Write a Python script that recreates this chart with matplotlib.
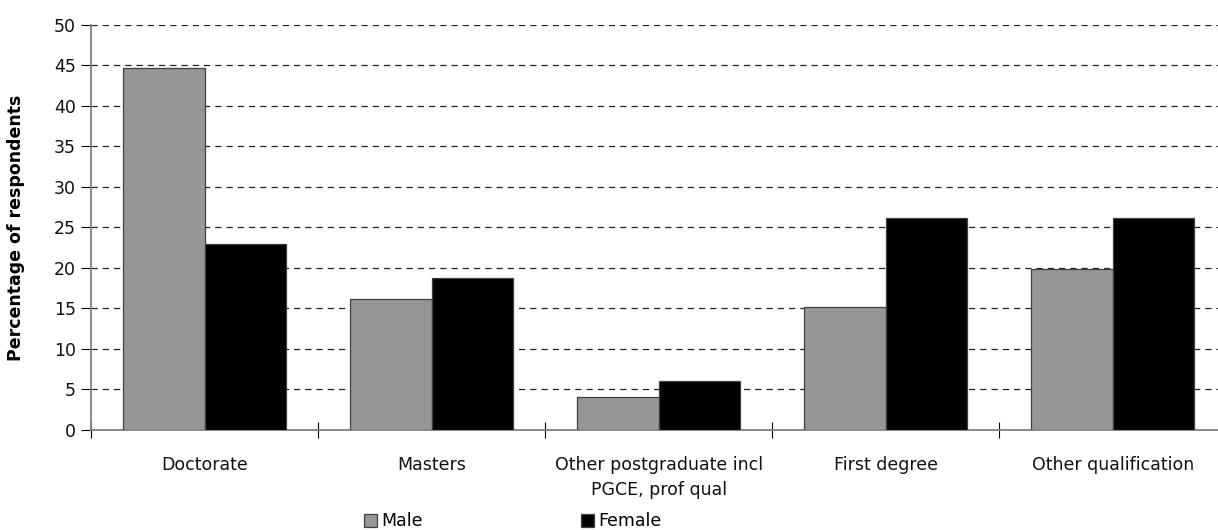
import matplotlib
matplotlib.use("Agg")
import matplotlib.pyplot as plt
import numpy as np

plt.rcParams['font.family'] = ['DejaVu Sans']
plt.rcParams['font.size'] = 12.5

categories = ['Doctorate', 'Masters', 'Other postgraduate incl\nPGCE, prof qual',
              'First degree', 'Other qualification']
male = [44.7, 16.2, 4.0, 15.2, 19.8]
female = [22.9, 18.7, 6.0, 26.1, 26.1]
series_names = ['Male', 'Female']

fig = plt.figure(figsize=(12.18, 5.30), dpi=100)
# the plot area runs past the right edge of the picture, as in the original
ax = fig.add_axes([0.0747, 0.189, 0.932, 0.764])

x = np.arange(len(categories))
w = 0.36
ax.bar(x - w / 2, male, width=w, color='#969696', edgecolor='#404040', linewidth=0.9,
       label=series_names[0], zorder=3)
ax.bar(x + w / 2, female, width=w, color='black', edgecolor='#404040', linewidth=0.9,
       label=series_names[1], zorder=3)

ax.set_xlim(-0.5, len(categories) - 0.5)
ax.set_ylim(0, 50)
ax.set_yticks(np.arange(0, 51, 5))
for yv in np.arange(5, 51, 5):
    ax.axhline(yv, color='#222222', linestyle=(0, (5, 4)), linewidth=0.9, zorder=1)

ax.set_xticks(np.arange(-0.5, len(categories), 1))
ax.set_xticklabels([])
ax.set_xticks(x, minor=True)
ax.set_xticklabels(categories, minor=True, color='#111111', linespacing=1.45)
ax.tick_params(axis='x', which='major', direction='inout', length=12, color='black', width=0.8)
ax.tick_params(axis='x', which='minor', length=0, pad=19)
ax.tick_params(axis='y', direction='out', length=7, width=0.8, color='black',
               labelcolor='#111111', pad=4)

for s in ['top', 'right']:
    ax.spines[s].set_visible(False)
for s in ['left', 'bottom']:
    ax.spines[s].set_color('#808080')
    ax.spines[s].set_linewidth(1.3)

ax.set_ylabel('Percentage of respondents', fontweight='bold', fontsize=12.5, labelpad=21)

fig.legend(loc='lower center', bbox_to_anchor=(0.421, -0.03), ncol=2, frameon=False,
           columnspacing=9.1, handlelength=0.75, handleheight=0.75, handletextpad=0.25,
           fontsize=12.5)

fig.savefig('out.png', dpi=100)
